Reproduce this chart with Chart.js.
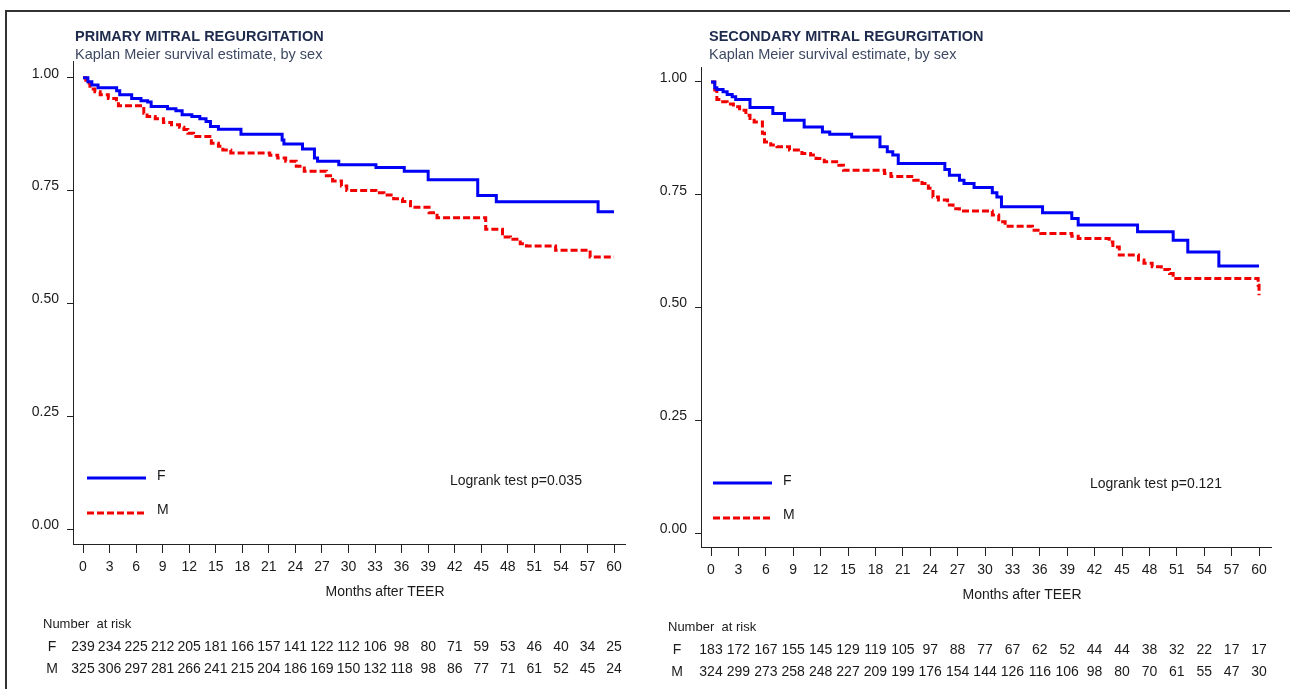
<!DOCTYPE html>
<html>
<head>
<meta charset="utf-8">
<script src="https://cdn.jsdelivr.net/npm/chart.js@4"></script>
<style>
  html, body { margin: 0; padding: 0; background: #fff; }
  #page { position: relative; width: 1290px; height: 689px; overflow: hidden; }
  #frame { position: absolute; left: 5px; top: 10px; width: 1400px; height: 800px;
           border-top: 2px solid #333; border-left: 2px solid #333; }
  .panel { position: absolute; top: 0; width: 645px; height: 689px; }
</style>
</head>
<body>
<div id="page">
  <div id="frame"></div>
  <div class="panel" style="left:0"><canvas id="primary" width="645" height="689"></canvas></div>
  <div class="panel" style="left:645px"><canvas id="secondary" width="645" height="689"></canvas></div>
</div>
<script>
const FONT = "'Liberation Sans', Arial, sans-serif";

// x ticks (months) and y ticks (survival)
const months = [0, 3, 6, 9, 12, 15, 18, 21, 24, 27, 30, 33, 36, 39, 42, 45, 48, 51, 54, 57, 60];
const yTicks = [0, 0.25, 0.5, 0.75, 1];

// primary MR, females
const priF_t = [0, 0.55, 1.0, 1.7, 3.8, 4.15, 5.5, 6.55, 7.3, 7.7, 9.55, 10.5, 11.2, 12.3, 13.2, 13.9, 14.4, 15.3, 17.85, 22.5,
                22.7, 24.8, 26.15, 26.5, 28.9, 33.1, 36.3, 39, 44.6, 46.7, 58.2, 60];
const priF_s = [1, 0.991, 0.984, 0.978, 0.971, 0.962, 0.954, 0.949, 0.946, 0.936, 0.931, 0.927, 0.918, 0.914, 0.909, 0.903, 0.892, 0.886, 0.875, 0.862,
                0.853, 0.842, 0.822, 0.815, 0.807, 0.801, 0.793, 0.774, 0.739, 0.725, 0.703, 0.703];
// primary MR, males
const priM_t = [0, 0.32, 0.78, 1.34, 1.94, 2.86, 3.78, 4.0, 6.87, 7.24, 8.16, 9.09, 10.0, 10.9, 11.4, 11.85, 12.5, 14.5, 15.3, 15.8,
                16.7, 21.1, 22.0, 22.9, 24.1, 25.0, 27.5, 28.2, 29.2, 29.8, 33.1, 34.0, 35.1, 36.1, 37.0, 39.1, 40.0, 45.5, 47.4, 48.3,
                49.4, 50.1, 53.4, 57.3, 60];
const priM_s = [1, 0.988, 0.975, 0.969, 0.962, 0.954, 0.947, 0.938, 0.921, 0.914, 0.909, 0.901, 0.896, 0.890, 0.885, 0.877, 0.870, 0.855, 0.848, 0.840,
                0.833, 0.828, 0.822, 0.815, 0.804, 0.793, 0.783, 0.771, 0.760, 0.750, 0.745, 0.740, 0.732, 0.726, 0.713, 0.701, 0.690, 0.664, 0.647, 0.642,
                0.632, 0.627, 0.618, 0.603, 0.603];
// secondary MR, females
const secF_t = [0, 0.41, 0.64, 1.32, 1.77, 2.32, 2.7, 4.27, 6.77, 8.04, 10.2, 12.2, 13.0, 15.4, 18.5, 19.3, 19.9, 20.5, 25.6, 26.1,
                27.2, 27.7, 28.8, 30.8, 31.3, 31.8, 36.3, 39.5, 40.2, 46.7, 50.6, 52.2, 55.6, 60];
const secF_s = [1, 0.987, 0.983, 0.978, 0.972, 0.967, 0.961, 0.943, 0.930, 0.915, 0.900, 0.889, 0.884, 0.878, 0.856, 0.845, 0.838, 0.819, 0.806, 0.793,
                0.782, 0.775, 0.766, 0.754, 0.745, 0.723, 0.710, 0.697, 0.683, 0.668, 0.649, 0.623, 0.592, 0.592];
// secondary MR, males
const secM_t = [0, 0.41, 0.64, 1.09, 1.77, 2.45, 3.13, 3.82, 4.27, 4.72, 5.63, 5.86, 6.54, 7.22, 8.59, 9.95, 10.9, 11.5, 12.4, 14.0,
                14.5, 19.0, 19.7, 22.2, 23.1, 23.8, 24.3, 24.9, 25.9, 26.5, 27.2, 30.8, 31.5, 32.2, 35.2, 36.1, 39.5, 40.2, 43.6, 44.0,
                44.7, 46.8, 47.4, 48.3, 49.3, 50.2, 50.6, 59.9, 60];
const secM_s = [1, 0.982, 0.961, 0.956, 0.951, 0.945, 0.937, 0.926, 0.919, 0.911, 0.886, 0.867, 0.860, 0.856, 0.849, 0.841, 0.838, 0.830, 0.823, 0.815,
                0.804, 0.797, 0.790, 0.782, 0.775, 0.764, 0.745, 0.738, 0.727, 0.719, 0.714, 0.705, 0.690, 0.680, 0.671, 0.664, 0.658, 0.653, 0.645, 0.634,
                0.616, 0.605, 0.598, 0.590, 0.584, 0.575, 0.564, 0.549, 0.527];

// number at risk
const priRiskF = [239, 234, 225, 212, 205, 181, 166, 157, 141, 122, 112, 106, 98, 80, 71, 59, 53, 46, 40, 34, 25];
const priRiskM = [325, 306, 297, 281, 266, 241, 215, 204, 186, 169, 150, 132, 118, 98, 86, 77, 71, 61, 52, 45, 24];
const secRiskF = [183, 172, 167, 155, 145, 129, 119, 105, 97, 88, 77, 67, 62, 52, 44, 44, 38, 32, 22, 17, 17];
const secRiskM = [324, 299, 273, 258, 248, 227, 209, 199, 176, 154, 144, 126, 116, 106, 98, 80, 70, 61, 55, 47, 30];

const BLUE = '#0000f5';
const RED = '#f20000';
const DASH = [7, 3];

Chart.defaults.font.family = FONT;

function toPoints(t, s) {
    return t.map((v, i) => ({ x: v, y: s[i] }));
}

// titles, legend, logrank text, axis title and risk table
const kmExtras = {
    id: 'kmExtras',
    afterDraw(chart, args, o) {
        const ctx = chart.ctx;
        const xs = chart.scales.x;
        const area = chart.chartArea;
        ctx.save();
        ctx.textBaseline = 'middle';
        ctx.textAlign = 'left';

        ctx.fillStyle = '#1f2b4d';
        ctx.font = 'bold 14.5px ' + FONT;
        ctx.fillText(o.title, o.titleX, 37);
        ctx.fillStyle = '#3d4862';
        ctx.font = '14.5px ' + FONT;
        ctx.fillText(o.subtitle, o.titleX, 55);

        // legend
        const lx = area.left + o.legendDx;
        ctx.lineWidth = 3;
        ctx.strokeStyle = BLUE;
        ctx.beginPath();
        ctx.moveTo(lx, o.legendY);
        ctx.lineTo(lx + 59, o.legendY);
        ctx.stroke();
        ctx.strokeStyle = RED;
        ctx.setLineDash(DASH);
        ctx.beginPath();
        ctx.moveTo(lx, o.legendY + 35);
        ctx.lineTo(lx + 59, o.legendY + 35);
        ctx.stroke();
        ctx.setLineDash([]);
        ctx.fillStyle = '#1a1a1a';
        ctx.font = '14px ' + FONT;
        ctx.fillText('F', lx + 70, o.legendY - 2);
        ctx.fillText('M', lx + 70, o.legendY + 32);

        ctx.fillText(o.logrank, o.logrankX, o.logrankY);

        // axis title
        ctx.textAlign = 'center';
        ctx.fillText('Months after TEER', (area.left + area.right) / 2 + 36, area.bottom + 48);

        // number at risk
        ctx.textAlign = 'left';
        ctx.font = '13px ' + FONT;
        ctx.fillText('Number  at risk', o.riskX, area.bottom + 80);
        ctx.font = '14px ' + FONT;
        ctx.textAlign = 'center';
        ctx.fillText('F', o.riskX + 9, area.bottom + 103);
        ctx.fillText('M', o.riskX + 9, area.bottom + 125);
        months.forEach((m, i) => {
            const px = xs.getPixelForValue(m);
            ctx.fillText(String(o.riskF[i]), px, area.bottom + 103);
            ctx.fillText(String(o.riskM[i]), px, area.bottom + 125);
        });
        ctx.restore();
    }
};

function makeChart(id, fT, fS, mT, mS, ext, pad, xRange, yRange) {
    const ctx = document.getElementById(id).getContext('2d');
    return new Chart(ctx, {
        type: 'line',
        data: {
            datasets: [
                { label: 'F', data: toPoints(fT, fS), borderColor: BLUE, borderWidth: 3, stepped: true, pointRadius: 0, fill: false },
                { label: 'M', data: toPoints(mT, mS), borderColor: RED, borderWidth: 3, borderDash: DASH, stepped: true, pointRadius: 0, fill: false }
            ]
        },
        options: {
            responsive: false,
            animation: false,
            layout: { padding: pad },
            plugins: {
                legend: { display: false },
                tooltip: { enabled: false },
                kmExtras: ext
            },
            scales: {
                x: {
                    type: 'linear',
                    min: xRange[0],
                    max: xRange[1],
                    afterBuildTicks: s => { s.ticks = months.map(v => ({ value: v })); },
                    afterFit: s => { s.height = 40; },
                    ticks: { autoSkip: false, maxRotation: 0, padding: 6, color: '#1a1a1a', font: { size: 14 } },
                    grid: { drawOnChartArea: false, drawTicks: true, tickLength: 9, color: '#222' },
                    border: { display: true, color: '#222', width: 1 }
                },
                y: {
                    type: 'linear',
                    min: yRange[0],
                    max: yRange[1],
                    afterBuildTicks: s => { s.ticks = yTicks.map(v => ({ value: v })); },
                    afterFit: s => { s.width = 50; },
                    ticks: { callback: v => v.toFixed(2), padding: 8, labelOffset: -4, color: '#1a1a1a', font: { size: 14 } },
                    grid: { drawOnChartArea: false, drawTicks: true, tickLength: 6, color: '#222' },
                    border: { display: true, color: '#222', width: 1 }
                }
            }
        },
        plugins: [kmExtras]
    });
}

makeChart('primary', priF_t, priF_s, priM_t, priM_s, {
    title: 'PRIMARY MITRAL REGURGITATION',
    subtitle: 'Kaplan Meier survival estimate, by sex',
    titleX: 75,
    legendDx: 14, legendY: 478,
    logrank: 'Logrank test p=0.035', logrankX: 450, logrankY: 481,
    riskX: 43,
    riskF: priRiskF, riskM: priRiskM
}, { left: 23, top: 61, right: 20, bottom: 105 }, [-1.13, 61.24], [-0.033, 1.037]);

makeChart('secondary', secF_t, secF_s, secM_t, secM_s, {
    title: 'SECONDARY MITRAL REGURGITATION',
    subtitle: 'Kaplan Meier survival estimate, by sex',
    titleX: 64,
    legendDx: 12, legendY: 483,
    logrank: 'Logrank test p=0.121', logrankX: 445, logrankY: 484,
    riskX: 23,
    riskF: secRiskF, riskM: secRiskM
}, { left: 6, top: 67, right: 19, bottom: 102 }, [-1.095, 61.31], [-0.031, 1.033]);
</script>
</body>
</html>
